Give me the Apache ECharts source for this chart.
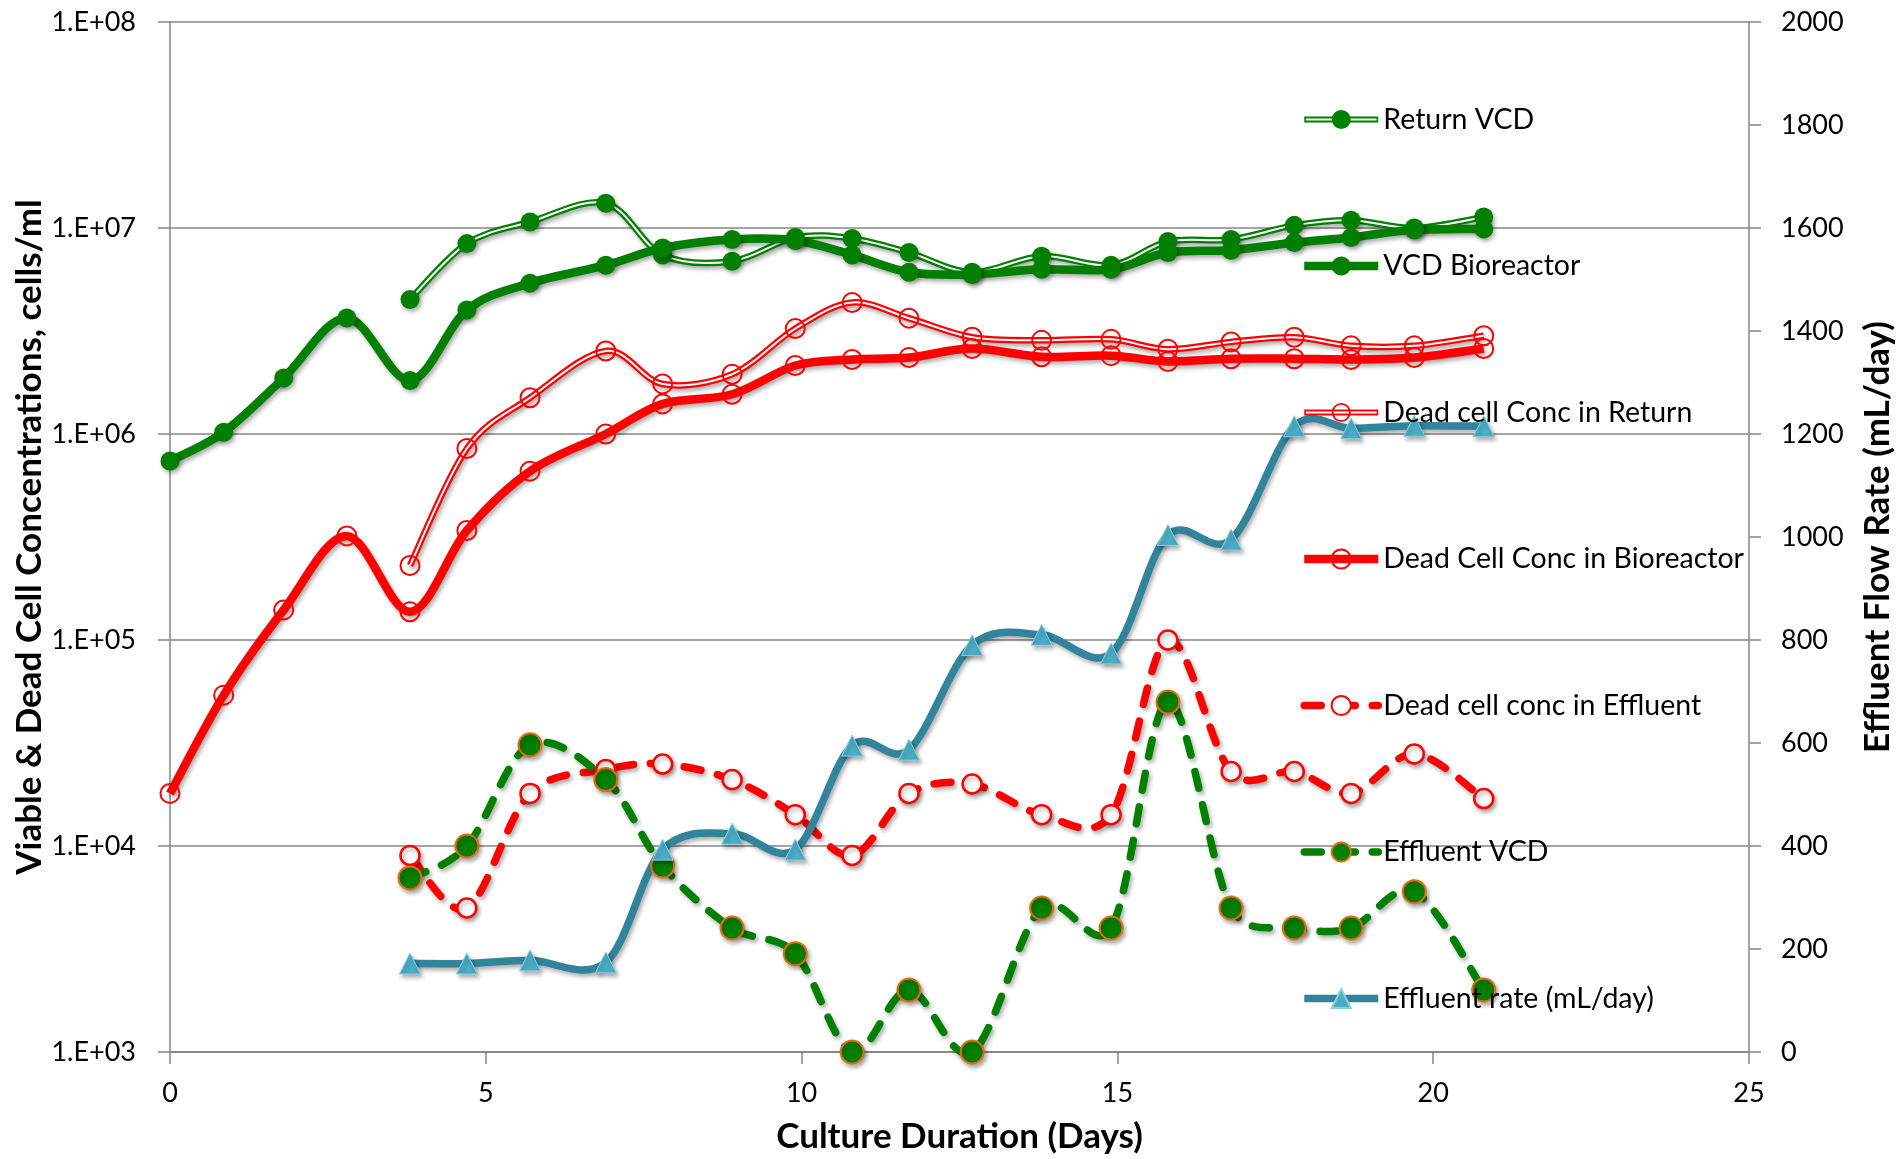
<!DOCTYPE html>
<html><head><meta charset="utf-8">
<script src="https://cdn.jsdelivr.net/npm/echarts@6/dist/echarts.min.js"></script>
<style>html,body{margin:0;padding:0;background:#fff}#c{width:1903px;height:1159px}</style>
</head><body><div id="c"></div>
<script>
// ---- data ----
const days = [0, 0.85, 1.8, 2.8, 3.8, 4.7, 5.7, 6.9, 7.8, 8.9, 9.9, 10.8, 11.7, 12.7, 13.8, 14.9, 15.8, 16.8, 17.8, 18.7, 19.7, 20.8];
const returnVCD = [null, null, null, null, 4.5e6, 8.4e6, 1.07e7, 1.32e7, 7.4e6, 6.9e6, 9.0e6, 8.9e6, 7.6e6, 6.1e6, 7.3e6, 6.6e6, 8.6e6, 8.8e6, 1.03e7, 1.09e7, 1.0e7, 1.13e7];
const vcdBioreactor = [7.4e5, 1.02e6, 1.87e6, 3.66e6, 1.82e6, 4.0e6, 5.4e6, 6.6e6, 8.0e6, 8.8e6, 8.7e6, 7.4e6, 6.1e6, 5.95e6, 6.3e6, 6.3e6, 7.6e6, 7.8e6, 8.5e6, 9.0e6, 9.8e6, 9.9e6];
const deadReturn = [null, null, null, null, 2.3e5, 8.5e5, 1.5e6, 2.53e6, 1.75e6, 1.95e6, 3.25e6, 4.35e6, 3.65e6, 2.95e6, 2.85e6, 2.88e6, 2.58e6, 2.8e6, 2.95e6, 2.68e6, 2.68e6, 3.0e6];
const deadBioreactor = [1.8e4, 5.4e4, 1.4e5, 3.2e5, 1.37e5, 3.4e5, 6.6e5, 1.0e6, 1.4e6, 1.56e6, 2.15e6, 2.3e6, 2.35e6, 2.6e6, 2.37e6, 2.4e6, 2.25e6, 2.32e6, 2.32e6, 2.3e6, 2.35e6, 2.6e6];
const deadEffluent = [null, null, null, null, 9.0e3, 5.0e3, 1.8e4, 2.35e4, 2.5e4, 2.1e4, 1.42e4, 9.0e3, 1.8e4, 2.0e4, 1.42e4, 1.42e4, 1.0e5, 2.3e4, 2.3e4, 1.8e4, 2.8e4, 1.7e4];
const effluentVCD = [null, null, null, null, 7.0e3, 1.0e4, 3.1e4, 2.1e4, 8.0e3, 4.0e3, 3.0e3, 1.0e3, 2.0e3, 1.0e3, 5.0e3, 4.0e3, 5.0e4, 5.0e3, 4.0e3, 4.0e3, 6.0e3, 2.0e3];
const effluentRate = [null, null, null, null, 172, 172, 178, 174, 393, 424, 393, 595, 587, 790, 810, 774, 1004, 995, 1215, 1211, 1216, 1215];
const seriesNames = ['Return VCD', 'VCD Bioreactor', 'Dead cell Conc in Return', 'Dead Cell Conc in Bioreactor', 'Dead cell conc in Effluent', 'Effluent VCD', 'Effluent rate (mL/day)'];
const xTitle = 'Culture Duration (Days)';
const yTitle = 'Viable & Dead Cell Concentrations, cells/ml';
const y2Title = 'Effluent Flow Rate (mL/day)';

// ---- styling ----
const FONT = 'Lato';
const GREEN = '#007F00', RED = '#FF0000', TEAL = '#31849B', TRI = '#4BACC6', ORANGE = '#E46C0A', GRID = '#868686';
const SH = {shadowColor: 'rgba(0,0,0,0.32)', shadowBlur: 4, shadowOffsetX: 2, shadowOffsetY: 3};
const DASH = [17, 17];

function pairs(ys) { const out = []; ys.forEach((y, i) => { if (y != null) out.push([days[i], y]); }); return out; }

// Excel-like smoothed curve through pixel points (Bezier, tension 1/6, clamped arms)
function smoothPath(pts) {
  if (!pts.length) return '';
  const dist = (a, b) => Math.hypot(b[0] - a[0], b[1] - a[1]);
  let d = 'M' + pts[0][0] + ' ' + pts[0][1];
  for (let i = 0; i < pts.length - 1; i++) {
    const p0 = pts[i - 1] || pts[i], p1 = pts[i], p2 = pts[i + 1], p3 = pts[i + 2] || pts[i + 1];
    const d12 = dist(p1, p2), d02 = dist(p0, p2), d13 = dist(p1, p3);
    const f1 = (d02 > 0 && d02 / 6 > d12 / 2) ? d12 / (2 * d02) : 1 / 6;
    const f2 = (d13 > 0 && d13 / 6 > d12 / 2) ? d12 / (2 * d13) : 1 / 6;
    const c1x = p1[0] + (p2[0] - p0[0]) * f1, c1y = p1[1] + (p2[1] - p0[1]) * f1;
    const c2x = p2[0] - (p3[0] - p1[0]) * f2, c2y = p2[1] - (p3[1] - p1[1]) * f2;
    d += ' C' + c1x + ' ' + c1y + ' ' + c2x + ' ' + c2y + ' ' + p2[0] + ' ' + p2[1];
  }
  return d;
}
function curve(ys, yAxisIndex, strokes) {
  return {
    type: 'custom', coordinateSystem: 'cartesian2d', yAxisIndex: yAxisIndex, silent: true, z: 1,
    data: [[10, yAxisIndex ? 500 : 1e4]],
    renderItem: function (params, api) {
      const d = smoothPath(pairs(ys).map(p => api.coord(p)));
      return {type: 'group', children: strokes.map(s => ({type: 'path', shape: {pathData: d}, style: Object.assign({fill: 'none', lineJoin: 'round'}, s)}))};
    }
  };
}

// double-line legend icons (outer bar with a white core + marker)
const dblFilled = 'path://M0 6.5 L74 6.5 L74 12.5 L0 12.5 Z M1.6 8.5 L1.6 10.5 L72.4 10.5 L72.4 8.5 Z M27.5 9.5 A9.5 9.5 0 1 1 46.5 9.5 A9.5 9.5 0 1 1 27.5 9.5 Z';
const dblRing = 'path://M0 6.5 L74 6.5 L74 12.5 L0 12.5 Z M1.6 8.5 L1.6 10.5 L72.4 10.5 L72.4 8.5 Z M27.5 9.5 A9.5 9.5 0 1 1 46.5 9.5 A9.5 9.5 0 1 1 27.5 9.5 Z M29.3 9.5 A7.7 7.7 0 1 0 44.7 9.5 A7.7 7.7 0 1 0 29.3 9.5 Z';

const shS = {shadowColor: SH.shadowColor, shadowBlur: SH.shadowBlur, shadowOffsetX: SH.shadowOffsetX, shadowOffsetY: SH.shadowOffsetY};
const curves = [
  curve(returnVCD, 0, [Object.assign({stroke: GREEN, lineWidth: 6.5}, shS), {stroke: '#fff', lineWidth: 2}]),
  curve(vcdBioreactor, 0, [Object.assign({stroke: GREEN, lineWidth: 8.5}, shS)]),
  curve(deadReturn, 0, [Object.assign({stroke: RED, lineWidth: 6.5}, shS), {stroke: '#fff', lineWidth: 2}]),
  curve(deadBioreactor, 0, [Object.assign({stroke: RED, lineWidth: 8.5}, shS)]),
  curve(deadEffluent, 0, [Object.assign({stroke: RED, lineWidth: 7.5, lineDash: DASH, lineCap: 'round'}, shS)]),
  curve(effluentVCD, 0, [Object.assign({stroke: GREEN, lineWidth: 7.5, lineDash: DASH, lineCap: 'round'}, shS)]),
  curve(effluentRate, 1, [Object.assign({stroke: TEAL, lineWidth: 7.5}, shS)])
];

// marker series (named; their own lines are hidden, the curves above draw the lines)
const base = {type: 'line', yAxisIndex: 0, z: 2};
const markers = [
  Object.assign({}, base, {name: seriesNames[0], data: pairs(returnVCD), symbol: 'circle', symbolSize: 19,
    lineStyle: {color: GREEN, width: 6.5, opacity: 0}, itemStyle: Object.assign({color: GREEN}, SH)}),
  Object.assign({}, base, {name: seriesNames[1], data: pairs(vcdBioreactor), symbol: 'circle', symbolSize: 19,
    lineStyle: {color: GREEN, width: 8.5, opacity: 0}, itemStyle: Object.assign({color: GREEN}, SH)}),
  Object.assign({}, base, {name: seriesNames[2], data: pairs(deadReturn), symbol: 'circle', symbolSize: 19,
    lineStyle: {color: RED, width: 6.5, opacity: 0}, itemStyle: {color: 'rgba(255,255,255,0)', borderColor: RED, borderWidth: 2}}),
  Object.assign({}, base, {name: seriesNames[3], data: pairs(deadBioreactor), symbol: 'circle', symbolSize: 19,
    lineStyle: {color: RED, width: 8.5, opacity: 0}, itemStyle: {color: 'rgba(255,255,255,0)', borderColor: RED, borderWidth: 2}}),
  Object.assign({}, base, {name: seriesNames[4], data: pairs(deadEffluent), symbol: 'circle', symbolSize: 19,
    lineStyle: {color: RED, width: 7.5, type: DASH, cap: 'round', opacity: 0},
    itemStyle: Object.assign({color: '#fff', borderColor: RED, borderWidth: 2.5}, SH)}),
  Object.assign({}, base, {name: seriesNames[5], data: pairs(effluentVCD), symbol: 'circle', symbolSize: 23,
    lineStyle: {color: GREEN, width: 7.5, type: DASH, cap: 'round', opacity: 0},
    itemStyle: Object.assign({color: GREEN, borderColor: ORANGE, borderWidth: 2}, SH)}),
  Object.assign({}, base, {name: seriesNames[6], yAxisIndex: 1, z: 3, data: pairs(effluentRate), symbol: 'triangle', symbolSize: 21,
    lineStyle: {color: TEAL, width: 7.5, opacity: 0},
    itemStyle: Object.assign({color: TRI, borderColor: '#8FD0E2', borderWidth: 1}, SH)})
];

const axisLineStyle = {color: GRID, width: 1.5};
const labelStyle = {fontFamily: FONT, fontSize: 27, color: '#000'};
const nameStyle = {fontFamily: FONT, fontSize: 35, fontWeight: 'bold', color: '#000'};
const showLine = {opacity: 1};

const option = {
  animation: false,
  backgroundColor: '#fff',
  textStyle: {fontFamily: FONT},
  grid: {left: 170, right: 153, top: 22, bottom: 100, containLabel: false},
  legend: {
    orient: 'vertical', left: 1300, top: 105, padding: 0,
    itemWidth: 74, itemHeight: 24, itemGap: 117.5, selectedMode: false,
    lineStyle: {width: 'inherit'},
    textStyle: {fontFamily: FONT, fontSize: 28.5, color: '#000', lineHeight: 28},
    data: [
      {name: seriesNames[0], icon: dblFilled, itemStyle: {color: GREEN, borderWidth: 0}},
      {name: seriesNames[1], lineStyle: showLine},
      {name: seriesNames[2], icon: dblRing, itemStyle: {color: RED, borderWidth: 0}},
      {name: seriesNames[3], lineStyle: showLine},
      {name: seriesNames[4], lineStyle: showLine},
      {name: seriesNames[5], lineStyle: showLine},
      {name: seriesNames[6], lineStyle: showLine}
    ]
  },
  xAxis: {
    type: 'value', min: 0, max: 25, interval: 5,
    name: xTitle, nameLocation: 'middle', nameGap: 67, nameTextStyle: nameStyle, nameMoveOverlap: false,
    axisLine: {show: true, onZero: false, lineStyle: axisLineStyle},
    axisTick: {show: true, length: 12, lineStyle: axisLineStyle},
    axisLabel: Object.assign({margin: 28}, labelStyle),
    splitLine: {show: false}
  },
  yAxis: [
    {
      type: 'log', logBase: 10, min: 1e3, max: 1e8,
      name: yTitle, nameLocation: 'middle', nameRotate: 90, nameGap: 123, nameTextStyle: nameStyle, nameMoveOverlap: false,
      axisLine: {show: true, lineStyle: axisLineStyle},
      axisTick: {show: true, length: 12, lineStyle: axisLineStyle},
      axisLabel: Object.assign({margin: 34, formatter: v => '1.E+' + String(Math.round(Math.log10(v))).padStart(2, '0')}, labelStyle),
      splitLine: {show: true, lineStyle: {color: GRID, width: 1.5}},
      minorTick: {show: false}, minorSplitLine: {show: false}
    },
    {
      type: 'value', position: 'right', min: 0, max: 2000, interval: 200,
      name: y2Title, nameLocation: 'middle', nameRotate: 90, nameGap: 111, nameTextStyle: nameStyle, nameMoveOverlap: false,
      axisLine: {show: true, lineStyle: axisLineStyle},
      axisTick: {show: true, length: 12, lineStyle: axisLineStyle},
      axisLabel: Object.assign({margin: 32, formatter: v => String(v)}, labelStyle),
      splitLine: {show: false}
    }
  ],
  series: curves.concat(markers)
};

const chart = echarts.init(document.getElementById('c'), null, {renderer: 'canvas'});
chart.setOption(option);
</script>
</body></html>
